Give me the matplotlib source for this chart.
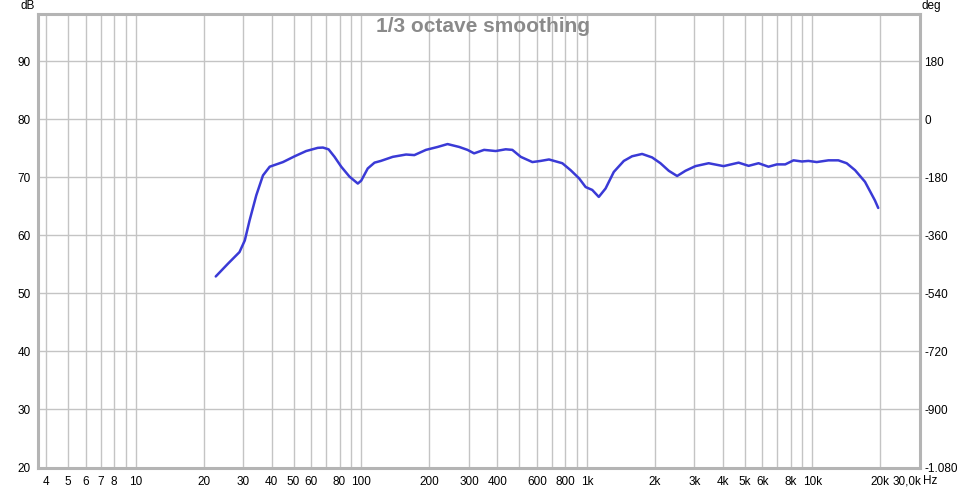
import matplotlib
matplotlib.use("Agg")
import matplotlib.pyplot as plt

plt.rcParams['font.family'] = ['Liberation Sans', 'DejaVu Sans']

# Frequency response (Hz, dB)
freq = [22.6, 25.6, 28.8, 30.4, 31.9, 34.2, 36.6, 39.2, 44.9, 50.6, 56.9, 64.1, 67.5,
        71.5, 76.0, 81.4, 88.5, 96.4, 99.8, 106.7, 114.3, 122, 137.7, 157.8, 171.7,
        193.3, 217.6, 241, 271.6, 295.4, 316, 350, 394, 436.5, 467, 509, 573, 624,
        679, 778, 847, 923, 987, 1056, 1129, 1210, 1316, 1458, 1586, 1757, 1946,
        2119, 2307, 2512, 2736, 3029, 3467, 4036, 4707, 5213, 5770, 6386, 6957,
        7577, 8247, 8984, 9600, 10450, 11780, 13030, 14190, 15460, 17110, 18930,
        19580]
spl = [52.9, 55.1, 57.1, 59.1, 62.5, 66.9, 70.3, 71.8, 72.6, 73.6, 74.5, 75.05, 75.1,
       74.8, 73.5, 71.8, 70.1, 68.9, 69.4, 71.5, 72.5, 72.8, 73.5, 73.9, 73.8,
       74.7, 75.2, 75.7, 75.2, 74.7, 74.1, 74.7, 74.5, 74.8, 74.7, 73.5, 72.6, 72.8,
       73.05, 72.4, 71.2, 69.8, 68.3, 67.8, 66.6, 68.05, 70.9, 72.8, 73.6, 74.0, 73.4,
       72.4, 71.1, 70.2, 71.1, 71.9, 72.4, 71.9, 72.5, 71.95, 72.4, 71.8, 72.2,
       72.2, 72.9, 72.7, 72.8, 72.6, 72.9, 72.9, 72.4, 71.2, 69.2, 66.0,
       64.7]

x_grid = [4, 5, 6, 7, 8, 9, 10, 20, 30, 40, 50, 60, 70, 80, 90, 100,
          200, 300, 400, 500, 600, 700, 800, 900, 1000,
          2000, 3000, 4000, 5000, 6000, 7000, 8000, 9000, 10000, 20000]
x_tick_vals = [4, 5, 6, 7, 8, 10, 20, 30, 40, 50, 60, 80, 100, 200, 300, 400, 600,
               800, 1000, 2000, 3000, 4000, 5000, 6000, 8000, 10000, 20000]
x_tick_labels = ['4', '5', '6', '7', '8', '10', '20', '30', '40', '50', '60', '80',
                 '100', '200', '300', '400', '600', '800', '1k', '2k', '3k', '4k',
                 '5k', '6k', '8k', '10k', '20k']
x_max_label = '30,0k'
db_ticks = [20, 30, 40, 50, 60, 70, 80, 90]
deg_ticks = [-1080, -900, -720, -540, -360, -180, 0, 180]
deg_labels = ['-1.080', '-900', '-720', '-540', '-360', '-180', '0', '180']

W, H = 967, 491
fig = plt.figure(figsize=(W / 100, H / 100), dpi=100)
fig.patch.set_facecolor('white')
L, R, T, B = 38, 920, 14, 467.5
ax = fig.add_axes([L / W, 1 - B / H, (R - L) / W, (B - T) / H])

ax.set_xscale('log')
ax.set_xlim(3.68, 30000)
ylo, yhi = 20, 98.1
ax.set_ylim(ylo, yhi)

grid_c = '#c4c4c4'
for g in x_grid:
    ax.axvline(g, color=grid_c, lw=1, zorder=1)
for t in db_ticks:
    ax.axhline(t, color=grid_c, lw=1, zorder=1)

ax.plot(freq, spl, color='#3a3ad6', lw=1.8, zorder=3,
        solid_capstyle='round', solid_joinstyle='round')

ax.set_xticks(x_tick_vals)
ax.set_xticklabels(x_tick_labels)
ax.xaxis.set_minor_locator(matplotlib.ticker.NullLocator())
ax.set_yticks(db_ticks)
ax.tick_params(axis='both', length=0, labelsize=8.5, colors='black')
ax.tick_params(axis='x', pad=6)
ax.tick_params(axis='y', pad=5)

for s in ax.spines.values():
    s.set_color('#b4b4b4')
    s.set_linewidth(2.2)

ax2 = ax.twinx()
ax2.set_ylim((ylo - 80) * 18, (yhi - 80) * 18)
ax2.set_yticks(deg_ticks)
ax2.set_yticklabels(deg_labels)
ax2.tick_params(axis='y', length=0, labelsize=8.5, pad=3)
for s in ax2.spines.values():
    s.set_visible(False)

fig.text(28 / W, 1 - 6 / H, 'dB', fontsize=8.5, ha='center', va='center')
fig.text(931 / W, 1 - 6 / H, 'deg', fontsize=8.5, ha='center', va='center')
fig.text(907 / W, 1 - 484.3 / H, x_max_label, fontsize=8.5, ha='center', va='baseline')
fig.text(930 / W, 1 - 484.3 / H, 'Hz', fontsize=8.5, ha='center', va='baseline')
fig.text(483 / W, 1 - 27 / H, '1/3 octave smoothing', fontsize=15, fontweight='bold',
         color='#8a8a8a', ha='center', va='center')

fig.savefig('out.png', dpi=100, facecolor='white')
